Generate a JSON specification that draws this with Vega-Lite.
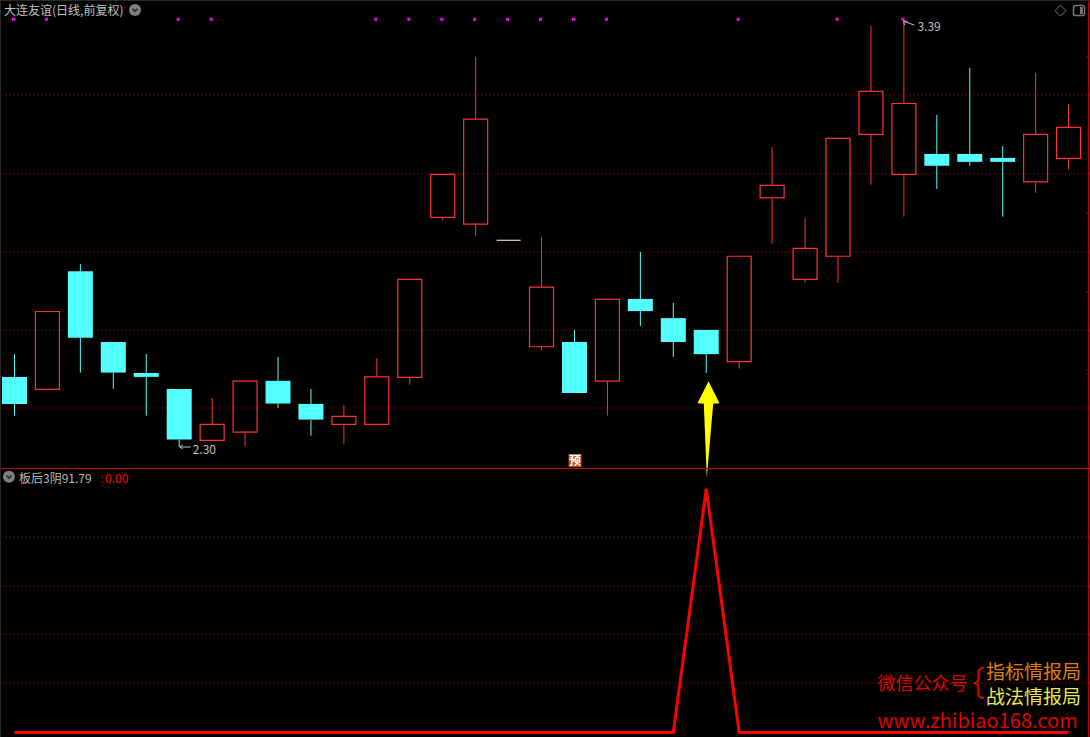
{"$schema":"https://vega.github.io/schema/vega-lite/v6.json","width":1090,"height":737,"autosize":{"type":"none"},"padding":0,"background":"#000000","datasets":{"candles":[{"i":0,"dir":"down","high":2.537,"top":2.479,"bottom":2.41,"low":2.38},{"i":1,"dir":"up","high":2.646,"top":2.646,"bottom":2.447,"low":2.447},{"i":2,"dir":"down","high":2.767,"top":2.749,"bottom":2.579,"low":2.49},{"i":3,"dir":"down","high":2.568,"top":2.568,"bottom":2.49,"low":2.449},{"i":4,"dir":"down","high":2.537,"top":2.489,"bottom":2.479,"low":2.38},{"i":5,"dir":"down","high":2.448,"top":2.448,"bottom":2.319,"low":2.3},{"i":6,"dir":"up","high":2.425,"top":2.358,"bottom":2.317,"low":2.317},{"i":7,"dir":"up","high":2.468,"top":2.468,"bottom":2.338,"low":2.301},{"i":8,"dir":"down","high":2.53,"top":2.469,"bottom":2.411,"low":2.4},{"i":9,"dir":"down","high":2.448,"top":2.41,"bottom":2.37,"low":2.329},{"i":10,"dir":"up","high":2.407,"top":2.378,"bottom":2.358,"low":2.308},{"i":11,"dir":"up","high":2.527,"top":2.479,"bottom":2.358,"low":2.358},{"i":12,"dir":"up","high":2.728,"top":2.728,"bottom":2.478,"low":2.459},{"i":13,"dir":"up","high":2.996,"top":2.996,"bottom":2.886,"low":2.878},{"i":14,"dir":"up","high":3.296,"top":3.137,"bottom":2.869,"low":2.839},{"i":15,"dir":"flat","high":2.828,"top":2.828,"bottom":2.828,"low":2.828},{"i":16,"dir":"up","high":2.836,"top":2.708,"bottom":2.556,"low":2.548},{"i":17,"dir":"down","high":2.599,"top":2.568,"bottom":2.438,"low":2.438},{"i":18,"dir":"up","high":2.677,"top":2.677,"bottom":2.468,"low":2.38},{"i":19,"dir":"down","high":2.798,"top":2.678,"bottom":2.647,"low":2.609},{"i":20,"dir":"down","high":2.668,"top":2.629,"bottom":2.568,"low":2.53},{"i":21,"dir":"down","high":2.599,"top":2.599,"bottom":2.537,"low":2.489},{"i":22,"dir":"up","high":2.787,"top":2.787,"bottom":2.518,"low":2.5},{"i":23,"dir":"up","high":3.066,"top":2.968,"bottom":2.936,"low":2.819},{"i":24,"dir":"up","high":2.885,"top":2.807,"bottom":2.728,"low":2.719},{"i":25,"dir":"up","high":3.088,"top":3.088,"bottom":2.787,"low":2.719},{"i":26,"dir":"up","high":3.375,"top":3.208,"bottom":3.098,"low":2.97},{"i":27,"dir":"up","high":3.39,"top":3.177,"bottom":2.996,"low":2.888},{"i":28,"dir":"down","high":3.148,"top":3.048,"bottom":3.018,"low":2.959},{"i":29,"dir":"down","high":3.268,"top":3.048,"bottom":3.028,"low":3.018},{"i":30,"dir":"down","high":3.068,"top":3.038,"bottom":3.028,"low":2.888},{"i":31,"dir":"up","high":3.255,"top":3.098,"bottom":2.977,"low":2.949},{"i":32,"dir":"up","high":3.176,"top":3.116,"bottom":3.037,"low":3.008}],"signals":[{"i":0,"p":3.392},{"i":1,"p":3.392},{"i":5,"p":3.392},{"i":6,"p":3.392},{"i":11,"p":3.392},{"i":12,"p":3.392},{"i":13,"p":3.392},{"i":14,"p":3.392},{"i":15,"p":3.392},{"i":16,"p":3.392},{"i":17,"p":3.392},{"i":18,"p":3.392},{"i":22,"p":3.392},{"i":25,"p":3.392},{"i":27,"p":3.392}],"indicator":[{"i":0,"v":0},{"i":1,"v":0},{"i":2,"v":0},{"i":3,"v":0},{"i":4,"v":0},{"i":5,"v":0},{"i":6,"v":0},{"i":7,"v":0},{"i":8,"v":0},{"i":9,"v":0},{"i":10,"v":0},{"i":11,"v":0},{"i":12,"v":0},{"i":13,"v":0},{"i":14,"v":0},{"i":15,"v":0},{"i":16,"v":0},{"i":17,"v":0},{"i":18,"v":0},{"i":19,"v":0},{"i":20,"v":0},{"i":21,"v":91.79},{"i":22,"v":0},{"i":23,"v":0},{"i":24,"v":0},{"i":25,"v":0},{"i":26,"v":0},{"i":27,"v":0},{"i":28,"v":0},{"i":29,"v":0},{"i":30,"v":0},{"i":31,"v":0},{"i":32,"v":0}]},"layer":[{"layer":[{"data":{"values":[{"p":3.19867},{"p":2.99699},{"p":2.79785},{"p":2.59871},{"p":2.39958}]},"mark":{"type":"rule","color":"#c00000","strokeWidth":1,"strokeDash":[1,3],"strokeDashOffset":0.5},"encoding":{"y":{"field":"p","type":"quantitative","scale":{"domain":[2.2464,3.4412],"range":[468,0],"zero":false,"nice":false}}}},{"data":{"name":"candles"},"transform":[{"filter":"datum.dir !== 'flat'"}],"mark":{"type":"rule","strokeWidth":1},"encoding":{"x":{"field":"i","type":"quantitative","scale":{"domain":[-0.44,32.65],"nice":false,"zero":false,"padding":0}},"y":{"field":"high","type":"quantitative"},"y2":{"field":"top"},"color":{"field":"dir","type":"nominal","scale":{"domain":["up","down"],"range":["#ff3232","#54ffff"]}}}},{"data":{"name":"candles"},"transform":[{"filter":"datum.dir !== 'flat'"}],"mark":{"type":"rule","strokeWidth":1},"encoding":{"x":{"field":"i","type":"quantitative"},"y":{"field":"bottom","type":"quantitative"},"y2":{"field":"low"},"color":{"field":"dir","type":"nominal"}}},{"data":{"name":"candles"},"transform":[{"filter":"datum.dir === 'down'"}],"mark":{"type":"bar","size":25,"orient":"vertical","fill":"#54ffff"},"encoding":{"x":{"field":"i","type":"quantitative"},"y":{"field":"top","type":"quantitative"},"y2":{"field":"bottom"}}},{"data":{"name":"candles"},"transform":[{"filter":"datum.dir === 'up'"}],"mark":{"type":"bar","size":24,"orient":"vertical","fillOpacity":0,"stroke":"#ff3232","strokeWidth":1.2},"encoding":{"x":{"field":"i","type":"quantitative"},"y":{"field":"top","type":"quantitative"},"y2":{"field":"bottom"}}},{"data":{"name":"candles"},"transform":[{"filter":"datum.dir === 'flat'"}],"mark":{"type":"tick","orient":"horizontal","size":24,"thickness":1,"color":"#ffffff","opacity":1},"encoding":{"x":{"field":"i","type":"quantitative"},"y":{"field":"top","type":"quantitative"}}},{"data":{"name":"signals"},"mark":{"type":"point","shape":"square","filled":true,"size":9,"color":"#ff00ff","opacity":1,"xOffset":-1},"encoding":{"x":{"field":"i","type":"quantitative"},"y":{"field":"p","type":"quantitative"}}},{"data":{"values":[{"p":2.468,"l":21.069,"r":21.069},{"p":2.412,"l":20.735,"r":21.403},{"p":2.4105,"l":20.926,"r":21.211},{"p":2.2216,"l":21.017,"r":21.017}]},"mark":{"type":"area","orient":"horizontal","color":"#ffff00","opacity":1},"encoding":{"y":{"field":"p","type":"quantitative"},"x":{"field":"l","type":"quantitative"},"x2":{"field":"r"}}},{"data":{"values":[{"a":5.02,"b":5.35,"p":2.3,"q":2.3},{"a":5.02,"b":5.11,"p":2.3,"q":2.305},{"a":5.02,"b":5.11,"p":2.3,"q":2.295},{"a":26.99,"b":27.32,"p":3.387,"q":3.377},{"a":26.99,"b":27.11,"p":3.387,"q":3.387},{"a":26.99,"b":27.02,"p":3.387,"q":3.377}]},"mark":{"type":"rule","color":"#bdbdbd","strokeWidth":1},"encoding":{"x":{"field":"a","type":"quantitative"},"x2":{"field":"b"},"y":{"field":"p","type":"quantitative"},"y2":{"field":"q"}}},{"data":{"values":[{"t":"2.30"}]},"mark":{"type":"text","align":"left","baseline":"middle","font":"Noto Sans CJK SC","fontSize":12,"color":"#c0c0c0"},"encoding":{"text":{"field":"t"},"x":{"datum":5.41},"y":{"datum":2.2923}}},{"data":{"values":[{"t":"3.39"}]},"mark":{"type":"text","align":"left","baseline":"middle","font":"Noto Sans CJK SC","fontSize":12,"color":"#c0c0c0"},"encoding":{"text":{"field":"t"},"x":{"datum":27.41},"y":{"datum":3.3735}}},{"data":{"values":[{"t":"大连友谊(日线,前复权)"}]},"mark":{"type":"text","align":"left","baseline":"middle","font":"Noto Sans CJK SC","fontSize":12,"color":"#c0c0c0"},"encoding":{"text":{"field":"t"},"x":{"datum":-0.319},"y":{"datum":3.413}}},{"data":{"values":[{"t":"icon"}]},"mark":{"type":"point","shape":"circle","filled":true,"size":144,"color":"#808080","opacity":1},"encoding":{"x":{"datum":3.658},"y":{"datum":3.4156}}},{"data":{"values":[{"t":"icon"}]},"mark":{"type":"point","shape":"M-0.5,-0.25L0,0.25L0.5,-0.25","filled":false,"size":100,"stroke":"#222222","strokeWidth":1.5,"opacity":1},"encoding":{"x":{"datum":3.658},"y":{"datum":3.4156}}},{"data":{"values":[{"t":"icon"}]},"mark":{"type":"point","shape":"diamond","filled":false,"size":121,"stroke":"#777777","strokeWidth":1,"opacity":1},"encoding":{"x":{"datum":31.755},"y":{"datum":3.414}}},{"data":{"values":[{"t":"icon"}]},"mark":{"type":"rect","fillOpacity":0,"stroke":"#777777","strokeWidth":1.5,"cornerRadius":2},"encoding":{"x":{"datum":32.15},"x2":{"datum":32.484},"y":{"datum":3.4271},"y2":{"datum":3.4016}}},{"data":{"values":[{"t":"icon"}]},"mark":{"type":"rule","stroke":"#777777","strokeWidth":3},"encoding":{"x":{"datum":32.39},"y":{"datum":3.4233},"y2":{"datum":3.4054}}},{"data":{"values":[{"t":"badge"}]},"mark":{"type":"point","shape":"square","filled":true,"size":169,"color":"#c24a08","opacity":1},"encoding":{"x":{"datum":17.016},"y":{"datum":2.2655}}},{"data":{"values":[{"t":"预"}]},"mark":{"type":"text","align":"center","baseline":"middle","font":"Noto Sans CJK SC","fontSize":12,"fontWeight":"bold","color":"#ffffff"},"encoding":{"text":{"field":"t"},"x":{"datum":17.016},"y":{"datum":2.2655}}},{"data":{"values":[{"t":"edge"}]},"mark":{"type":"rule","color":"#c80000","strokeWidth":1},"encoding":{"y":{"datum":2.2451}}},{"data":{"values":[{"t":"edge"}]},"mark":{"type":"rule","color":"#c80000","strokeWidth":1},"encoding":{"x":{"datum":32.605}}},{"data":{"values":[{"p":3.296},{"p":3.097},{"p":2.897},{"p":2.696},{"p":2.497}]},"mark":{"type":"rule","color":"#c80000","strokeWidth":1},"encoding":{"x":{"datum":32.545},"x2":{"datum":32.605},"y":{"field":"p","type":"quantitative"}}},{"data":{"values":[{"t":"edge"}]},"mark":{"type":"rule","color":"#2a2a2a","strokeWidth":1},"encoding":{"x":{"datum":-0.425}}},{"data":{"values":[{"t":"edge"}]},"mark":{"type":"rule","color":"#2a2a2a","strokeWidth":1},"encoding":{"y":{"datum":3.4399}}}]},{"layer":[{"data":{"values":[{"v":73.637},{"v":55.181},{"v":37.101},{"v":18.645}]},"mark":{"type":"rule","color":"#c00000","strokeWidth":1,"strokeDash":[1,3],"strokeDashOffset":0.5},"encoding":{"y":{"field":"v","type":"quantitative","scale":{"domain":[-1.695,99.25],"range":[737,469],"zero":false,"nice":false}}}},{"data":{"name":"indicator"},"mark":{"type":"line","color":"#ff0000","strokeWidth":3,"interpolate":"linear"},"encoding":{"x":{"field":"i","type":"quantitative"},"y":{"field":"v","type":"quantitative"}}},{"data":{"values":[{"t":"icon"}]},"mark":{"type":"point","shape":"circle","filled":true,"size":144,"color":"#808080","opacity":1},"encoding":{"x":{"datum":-0.167},"y":{"datum":96.3}}},{"data":{"values":[{"t":"icon"}]},"mark":{"type":"point","shape":"M-0.5,-0.25L0,0.25L0.5,-0.25","filled":false,"size":100,"stroke":"#222222","strokeWidth":1.5,"opacity":1},"encoding":{"x":{"datum":-0.167},"y":{"datum":96.3}}},{"data":{"values":[{"t":"板后3阴91.79"}]},"mark":{"type":"text","align":"left","baseline":"middle","font":"Noto Sans CJK SC","fontSize":12,"color":"#b8b8b8"},"encoding":{"text":{"field":"t"},"x":{"datum":0.137},"y":{"datum":95.67}}},{"data":{"values":[{"t":":"}]},"mark":{"type":"text","align":"left","baseline":"middle","font":"Noto Sans CJK SC","fontSize":12,"color":"#c00000"},"encoding":{"text":{"field":"t"},"x":{"datum":2.6},"y":{"datum":95.67}}},{"data":{"values":[{"t":"0.00"}]},"mark":{"type":"text","align":"left","baseline":"middle","font":"Noto Sans CJK SC","fontSize":12,"color":"#ff0000"},"encoding":{"text":{"field":"t"},"x":{"datum":2.747},"y":{"datum":95.67}}},{"data":{"values":[{"t":"微信公众号"}]},"mark":{"type":"text","align":"left","baseline":"middle","font":"Noto Sans CJK SC","fontSize":18,"color":"#e00000"},"encoding":{"text":{"field":"t"},"x":{"datum":26.2},"y":{"datum":17.71}}},{"data":{"values":[{"t":"{"}]},"mark":{"type":"text","align":"left","baseline":"middle","font":"Noto Sans","fontWeight":300,"fontSize":36,"color":"#e00000"},"encoding":{"text":{"field":"t"},"x":{"datum":29.07},"y":{"datum":19.0}}},{"data":{"values":[{"t":"指标情报局"}]},"mark":{"type":"text","align":"left","baseline":"middle","font":"Noto Sans CJK SC","fontSize":19,"color":"#e08000"},"encoding":{"text":{"field":"t"},"x":{"datum":29.49},"y":{"datum":22.24}}},{"data":{"values":[{"t":"战法情报局"}]},"mark":{"type":"text","align":"left","baseline":"middle","font":"Noto Sans CJK SC","fontSize":19,"color":"#e8e850"},"encoding":{"text":{"field":"t"},"x":{"datum":29.49},"y":{"datum":12.81}}},{"data":{"values":[{"t":"www.zhibiao168.com"}]},"mark":{"type":"text","align":"left","baseline":"middle","font":"Noto Sans CJK SC","fontSize":20,"color":"#e00000"},"encoding":{"text":{"field":"t"},"x":{"datum":26.2},"y":{"datum":4.14}}}]}],"resolve":{"scale":{"y":"independent"}},"config":{"view":{"stroke":null,"fill":"#000000"},"axis":{"disable":true},"legend":{"disable":true}}}
